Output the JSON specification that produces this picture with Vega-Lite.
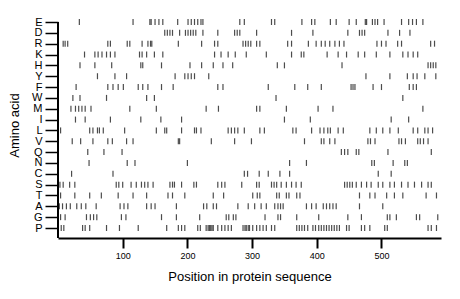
{
"$schema": "https://vega.github.io/schema/vega-lite/v6.json",
"autosize": {"type": "none"},
"padding": {"left": 58, "top": 22, "right": 19, "bottom": 61},
"width": 383,
"height": 216,
"background": "white",
"config": {"view": {"stroke": null}, "font": "Liberation Sans"},
"data": {"values": [
{"a":"E","p":33},{"a":"E","p":116},{"a":"E","p":142},{"a":"E","p":144},{"a":"E","p":150},{"a":"E","p":156},{"a":"E","p":162},{"a":"E","p":185},{"a":"E","p":201},{"a":"E","p":206},{"a":"E","p":211},{"a":"E","p":216},{"a":"E","p":221},{"a":"E","p":224},{"a":"E","p":281},{"a":"E","p":288},{"a":"E","p":330},{"a":"E","p":335},{"a":"E","p":377},{"a":"E","p":392},{"a":"E","p":397},{"a":"E","p":421},{"a":"E","p":430},{"a":"E","p":450},{"a":"E","p":461},{"a":"E","p":475},{"a":"E","p":477},{"a":"E","p":486},{"a":"E","p":490},{"a":"E","p":494},{"a":"E","p":504},{"a":"E","p":531},{"a":"E","p":542},{"a":"E","p":548},{"a":"E","p":554},{"a":"E","p":564},
{"a":"D","p":165},{"a":"D","p":169},{"a":"D","p":173},{"a":"D","p":177},{"a":"D","p":188},{"a":"D","p":197},{"a":"D","p":201},{"a":"D","p":205},{"a":"D","p":209},{"a":"D","p":213},{"a":"D","p":224},{"a":"D","p":247},{"a":"D","p":273},{"a":"D","p":277},{"a":"D","p":281},{"a":"D","p":307},{"a":"D","p":361},{"a":"D","p":394},{"a":"D","p":448},{"a":"D","p":466},{"a":"D","p":470},{"a":"D","p":474},{"a":"D","p":510},{"a":"D","p":528},{"a":"D","p":544},
{"a":"R","p":8},{"a":"R","p":11},{"a":"R","p":15},{"a":"R","p":77},{"a":"R","p":81},{"a":"R","p":107},{"a":"R","p":111},{"a":"R","p":130},{"a":"R","p":139},{"a":"R","p":143},{"a":"R","p":145},{"a":"R","p":186},{"a":"R","p":222},{"a":"R","p":242},{"a":"R","p":247},{"a":"R","p":286},{"a":"R","p":290},{"a":"R","p":294},{"a":"R","p":298},{"a":"R","p":307},{"a":"R","p":312},{"a":"R","p":355},{"a":"R","p":361},{"a":"R","p":387},{"a":"R","p":399},{"a":"R","p":407},{"a":"R","p":413},{"a":"R","p":420},{"a":"R","p":428},{"a":"R","p":435},{"a":"R","p":442},{"a":"R","p":493},{"a":"R","p":500},{"a":"R","p":507},{"a":"R","p":525},{"a":"R","p":531},{"a":"R","p":576},{"a":"R","p":582},
{"a":"K","p":41},{"a":"K","p":57},{"a":"K","p":62},{"a":"K","p":68},{"a":"K","p":75},{"a":"K","p":81},{"a":"K","p":88},{"a":"K","p":126},{"a":"K","p":130},{"a":"K","p":137},{"a":"K","p":149},{"a":"K","p":162},{"a":"K","p":242},{"a":"K","p":252},{"a":"K","p":263},{"a":"K","p":274},{"a":"K","p":291},{"a":"K","p":322},{"a":"K","p":361},{"a":"K","p":376},{"a":"K","p":380},{"a":"K","p":416},{"a":"K","p":433},{"a":"K","p":446},{"a":"K","p":464},{"a":"K","p":474},{"a":"K","p":492},{"a":"K","p":513},{"a":"K","p":533},{"a":"K","p":541},{"a":"K","p":549},{"a":"K","p":556},
{"a":"H","p":34},{"a":"H","p":57},{"a":"H","p":83},{"a":"H","p":128},{"a":"H","p":131},{"a":"H","p":160},{"a":"H","p":204},{"a":"H","p":222},{"a":"H","p":240},{"a":"H","p":255},{"a":"H","p":270},{"a":"H","p":339},{"a":"H","p":350},{"a":"H","p":439},{"a":"H","p":572},{"a":"H","p":576},{"a":"H","p":580},{"a":"H","p":584},
{"a":"Y","p":61},{"a":"Y","p":88},{"a":"Y","p":106},{"a":"Y","p":181},{"a":"Y","p":196},{"a":"Y","p":201},{"a":"Y","p":206},{"a":"Y","p":211},{"a":"Y","p":233},{"a":"Y","p":476},{"a":"Y","p":513},{"a":"Y","p":540},{"a":"Y","p":549},{"a":"Y","p":555},{"a":"Y","p":567},{"a":"Y","p":584},
{"a":"F","p":28},{"a":"F","p":77},{"a":"F","p":85},{"a":"F","p":93},{"a":"F","p":101},{"a":"F","p":124},{"a":"F","p":131},{"a":"F","p":139},{"a":"F","p":160},{"a":"F","p":178},{"a":"F","p":247},{"a":"F","p":255},{"a":"F","p":325},{"a":"F","p":366},{"a":"F","p":386},{"a":"F","p":407},{"a":"F","p":453},{"a":"F","p":456},{"a":"F","p":459},{"a":"F","p":487},{"a":"F","p":500},{"a":"F","p":543},{"a":"F","p":549},{"a":"F","p":554},
{"a":"W","p":23},{"a":"W","p":34},{"a":"W","p":75},{"a":"W","p":137},{"a":"W","p":149},{"a":"W","p":337},{"a":"W","p":533},
{"a":"M","p":20},{"a":"M","p":27},{"a":"M","p":32},{"a":"M","p":37},{"a":"M","p":42},{"a":"M","p":51},{"a":"M","p":111},{"a":"M","p":152},{"a":"M","p":229},{"a":"M","p":248},{"a":"M","p":307},{"a":"M","p":312},{"a":"M","p":353},{"a":"M","p":402},{"a":"M","p":425},{"a":"M","p":564},
{"a":"I","p":27},{"a":"I","p":42},{"a":"I","p":81},{"a":"I","p":128},{"a":"I","p":159},{"a":"I","p":191},{"a":"I","p":350},{"a":"I","p":390},{"a":"I","p":515},{"a":"I","p":542},
{"a":"L","p":4},{"a":"L","p":49},{"a":"L","p":54},{"a":"L","p":61},{"a":"L","p":64},{"a":"L","p":70},{"a":"L","p":103},{"a":"L","p":152},{"a":"L","p":165},{"a":"L","p":168},{"a":"L","p":191},{"a":"L","p":211},{"a":"L","p":214},{"a":"L","p":221},{"a":"L","p":263},{"a":"L","p":268},{"a":"L","p":273},{"a":"L","p":278},{"a":"L","p":288},{"a":"L","p":312},{"a":"L","p":319},{"a":"L","p":363},{"a":"L","p":368},{"a":"L","p":392},{"a":"L","p":405},{"a":"L","p":411},{"a":"L","p":417},{"a":"L","p":421},{"a":"L","p":433},{"a":"L","p":441},{"a":"L","p":482},{"a":"L","p":492},{"a":"L","p":502},{"a":"L","p":513},{"a":"L","p":526},{"a":"L","p":549},{"a":"L","p":556},{"a":"L","p":567},{"a":"L","p":572},{"a":"L","p":579},
{"a":"V","p":22},{"a":"V","p":35},{"a":"V","p":54},{"a":"V","p":77},{"a":"V","p":84},{"a":"V","p":106},{"a":"V","p":116},{"a":"V","p":186},{"a":"V","p":188},{"a":"V","p":237},{"a":"V","p":273},{"a":"V","p":299},{"a":"V","p":381},{"a":"V","p":407},{"a":"V","p":411},{"a":"V","p":420},{"a":"V","p":428},{"a":"V","p":479},{"a":"V","p":483},{"a":"V","p":490},{"a":"V","p":527},{"a":"V","p":531},{"a":"V","p":537},{"a":"V","p":556},{"a":"V","p":560},{"a":"V","p":565},{"a":"V","p":572},
{"a":"Q","p":46},{"a":"Q","p":71},{"a":"Q","p":99},{"a":"Q","p":438},{"a":"Q","p":443},{"a":"Q","p":448},{"a":"Q","p":461},{"a":"Q","p":465},{"a":"Q","p":510},{"a":"Q","p":577},
{"a":"N","p":48},{"a":"N","p":107},{"a":"N","p":119},{"a":"N","p":200},{"a":"N","p":358},{"a":"N","p":384},{"a":"N","p":485},{"a":"N","p":489},{"a":"N","p":518},{"a":"N","p":536},{"a":"N","p":540},
{"a":"C","p":21},{"a":"C","p":85},{"a":"C","p":288},{"a":"C","p":293},{"a":"C","p":311},{"a":"C","p":325},{"a":"C","p":343},{"a":"C","p":358},{"a":"C","p":495},{"a":"C","p":515},
{"a":"S","p":3},{"a":"S","p":8},{"a":"S","p":18},{"a":"S","p":26},{"a":"S","p":90},{"a":"S","p":94},{"a":"S","p":100},{"a":"S","p":113},{"a":"S","p":121},{"a":"S","p":129},{"a":"S","p":134},{"a":"S","p":139},{"a":"S","p":147},{"a":"S","p":173},{"a":"S","p":177},{"a":"S","p":180},{"a":"S","p":191},{"a":"S","p":210},{"a":"S","p":214},{"a":"S","p":247},{"a":"S","p":253},{"a":"S","p":258},{"a":"S","p":284},{"a":"S","p":307},{"a":"S","p":311},{"a":"S","p":330},{"a":"S","p":334},{"a":"S","p":338},{"a":"S","p":345},{"a":"S","p":353},{"a":"S","p":361},{"a":"S","p":368},{"a":"S","p":376},{"a":"S","p":443},{"a":"S","p":447},{"a":"S","p":451},{"a":"S","p":455},{"a":"S","p":461},{"a":"S","p":469},{"a":"S","p":477},{"a":"S","p":484},{"a":"S","p":495},{"a":"S","p":502},{"a":"S","p":513},{"a":"S","p":520},{"a":"S","p":531},{"a":"S","p":541},{"a":"S","p":551},{"a":"S","p":562},{"a":"S","p":572},{"a":"S","p":577},
{"a":"T","p":4},{"a":"T","p":26},{"a":"T","p":49},{"a":"T","p":67},{"a":"T","p":93},{"a":"T","p":116},{"a":"T","p":137},{"a":"T","p":170},{"a":"T","p":177},{"a":"T","p":196},{"a":"T","p":240},{"a":"T","p":256},{"a":"T","p":301},{"a":"T","p":308},{"a":"T","p":312},{"a":"T","p":338},{"a":"T","p":342},{"a":"T","p":353},{"a":"T","p":357},{"a":"T","p":369},{"a":"T","p":374},{"a":"T","p":466},{"a":"T","p":482},{"a":"T","p":490},{"a":"T","p":508},{"a":"T","p":520},{"a":"T","p":533},{"a":"T","p":569},{"a":"T","p":585},
{"a":"A","p":2},{"a":"A","p":7},{"a":"A","p":13},{"a":"A","p":19},{"a":"A","p":29},{"a":"A","p":36},{"a":"A","p":43},{"a":"A","p":59},{"a":"A","p":96},{"a":"A","p":102},{"a":"A","p":108},{"a":"A","p":137},{"a":"A","p":144},{"a":"A","p":150},{"a":"A","p":183},{"a":"A","p":225},{"a":"A","p":230},{"a":"A","p":240},{"a":"A","p":245},{"a":"A","p":278},{"a":"A","p":294},{"a":"A","p":304},{"a":"A","p":314},{"a":"A","p":322},{"a":"A","p":335},{"a":"A","p":340},{"a":"A","p":344},{"a":"A","p":348},{"a":"A","p":384},{"a":"A","p":392},{"a":"A","p":399},{"a":"A","p":410},{"a":"A","p":415},{"a":"A","p":420},{"a":"A","p":425},{"a":"A","p":430},{"a":"A","p":466},{"a":"A","p":502},
{"a":"G","p":4},{"a":"G","p":11},{"a":"G","p":44},{"a":"G","p":50},{"a":"G","p":55},{"a":"G","p":60},{"a":"G","p":98},{"a":"G","p":105},{"a":"G","p":160},{"a":"G","p":183},{"a":"G","p":219},{"a":"G","p":260},{"a":"G","p":264},{"a":"G","p":271},{"a":"G","p":275},{"a":"G","p":320},{"a":"G","p":340},{"a":"G","p":344},{"a":"G","p":369},{"a":"G","p":403},{"a":"G","p":448},{"a":"G","p":469},{"a":"G","p":509},{"a":"G","p":513},{"a":"G","p":523},{"a":"G","p":554},{"a":"G","p":559},{"a":"G","p":587},
{"a":"P","p":5},{"a":"P","p":9},{"a":"P","p":38},{"a":"P","p":42},{"a":"P","p":49},{"a":"P","p":75},{"a":"P","p":95},{"a":"P","p":124},{"a":"P","p":168},{"a":"P","p":186},{"a":"P","p":191},{"a":"P","p":196},{"a":"P","p":216},{"a":"P","p":220},{"a":"P","p":229},{"a":"P","p":232},{"a":"P","p":234},{"a":"P","p":236},{"a":"P","p":238},{"a":"P","p":240},{"a":"P","p":247},{"a":"P","p":253},{"a":"P","p":258},{"a":"P","p":263},{"a":"P","p":268},{"a":"P","p":286},{"a":"P","p":289},{"a":"P","p":291},{"a":"P","p":294},{"a":"P","p":296},{"a":"P","p":301},{"a":"P","p":307},{"a":"P","p":312},{"a":"P","p":317},{"a":"P","p":322},{"a":"P","p":330},{"a":"P","p":335},{"a":"P","p":369},{"a":"P","p":373},{"a":"P","p":377},{"a":"P","p":381},{"a":"P","p":386},{"a":"P","p":394},{"a":"P","p":398},{"a":"P","p":403},{"a":"P","p":407},{"a":"P","p":411},{"a":"P","p":415},{"a":"P","p":419},{"a":"P","p":423},{"a":"P","p":427},{"a":"P","p":431},{"a":"P","p":435},{"a":"P","p":446},{"a":"P","p":450},{"a":"P","p":469},{"a":"P","p":474},{"a":"P","p":482},{"a":"P","p":505},{"a":"P","p":509},{"a":"P","p":572},{"a":"P","p":577},{"a":"P","p":585}
]},
"layer": [
{
"mark": {"type": "tick", "size": 6, "thickness": 1.2, "color": "black"},
"encoding": {
"x": {"field": "p", "type": "quantitative", "scale": {"domain": [0, 592], "nice": false, "zero": false},
 "axis": {"title": "Position in protein sequence", "values": [100, 200, 300, 400, 500], "grid": false,
  "domainColor": "black", "domainWidth": 2, "tickColor": "black", "tickWidth": 2, "tickSize": 10,
  "labelFontSize": 9, "labelColor": "black", "labelPadding": 3, "labelFont": "Liberation Sans",
  "titleFontSize": 13, "titleFontWeight": "normal", "titleColor": "black", "titlePadding": 10, "titleFont": "Liberation Sans"}},
"y": {"field": "a", "type": "nominal",
 "scale": {"type": "point", "domain": ["E","D","R","K","H","Y","F","W","M","I","L","V","Q","N","C","S","T","A","G","P"], "range": [0, 206], "padding": 0},
 "axis": {"title": "Amino acid", "domain": false, "grid": false, "tickColor": "black", "tickWidth": 1.5, "tickSize": 13,
  "labelFontSize": 11, "labelColor": "black", "labelPadding": 3, "labelFont": "Liberation Sans",
  "titleFontSize": 13, "titleFontWeight": "normal", "titleColor": "black", "titlePadding": 10, "titleFont": "Liberation Sans"}}
}
},
{
"mark": {"type": "rule", "color": "black", "strokeWidth": 2},
"encoding": {"x": {"datum": 0}}
}
]
}
